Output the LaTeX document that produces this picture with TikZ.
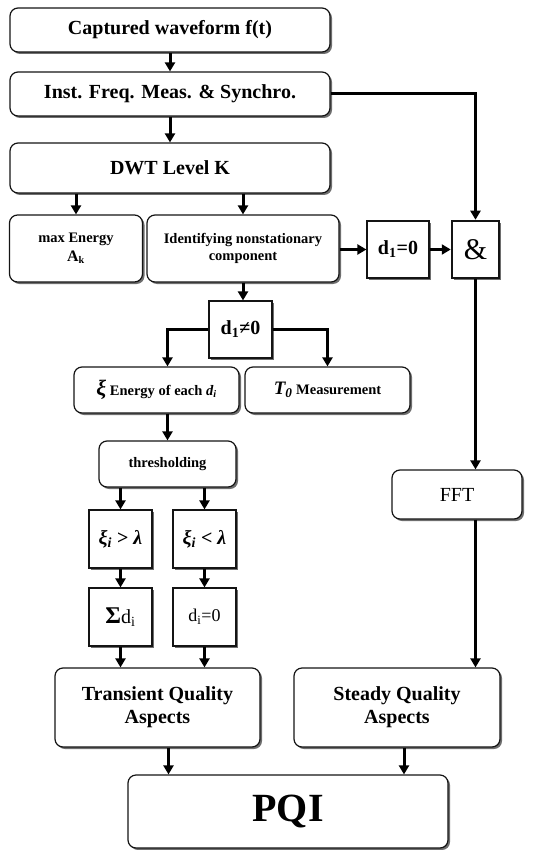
\documentclass[tikz,border=0pt]{standalone}
\usepackage{fontspec}
\setmainfont{Liberation Serif}
\usepackage{amsmath}
\usepackage{tikz}
\usetikzlibrary{
  arrows.meta,
  calc,
  shadows
}
\usepackage{xcolor}
\definecolor{shadowgray}{RGB}{110,110,110}
\definecolor{boxline}{RGB}{20,20,20}
\tikzset{
  % Bloklar
  rbox/.style   = {draw=boxline, line width=1.2pt, rounded corners=8pt, fill=white,
                   align=center, inner sep=0pt,
                   drop shadow={shadow xshift=2pt, shadow yshift=-2pt, fill=shadowgray, opacity=1}},
  sbox/.style   = {draw=boxline, line width=1.2pt, fill=white, align=center, inner sep=0pt,
                   drop shadow={shadow xshift=2pt, shadow yshift=-2pt, fill=shadowgray, opacity=1}},
  % Matn o'lchamlari
  bigtxt/.style = {font=\fontsize{20}{23}\selectfont\bfseries},
  smtxt/.style  = {font=\fontsize{14.5}{17}\selectfont\bfseries},
  % Strelkalar
  arr/.style    = {line width=3pt, -{Triangle[width=10pt,length=9pt]}},
}

\begin{document}
\begin{tikzpicture}[x=1pt,y=-1pt]
  \useasboundingbox (0,0) rectangle (557,850);
  % Yuqori qism
  \node[rbox, bigtxt, minimum width=320, minimum height=44] (capt) at (170,30) {Captured waveform f(t)};
  \node[rbox, bigtxt, minimum width=320, minimum height=44] (freq) at (170,94) {Inst. Freq. Meas. \& Synchro.};
  \node[rbox, bigtxt, minimum width=320, minimum height=50] (dwt) at (170,168) {DWT Level K};
  \node[rbox, smtxt, minimum width=133, minimum height=67] (maxen) at (76,248.5)
    {max Energy\\[2pt]{\fontsize{16}{18}\selectfont A}\textsubscript{k}};
  \node[rbox, smtxt, minimum width=192, minimum height=67] (ident) at (243,248.5)
    {Identifying nonstationary\\component};
  \node[sbox, bigtxt, minimum width=62, minimum height=57] (dzero) at (398,249.5) {d\textsubscript{1}=0};
  \node[sbox, line width=2.5pt, font=\fontsize{30}{32}\selectfont, minimum width=47, minimum height=57]
    (andb) at (475.5,249.5) {\&};
  % Nostatsionar tarmoq
  \node[sbox, bigtxt, minimum width=63, minimum height=57] (dnz) at (240.5,329.5)
    {d\textsubscript{1}≠0};
  \node[rbox, smtxt, minimum width=165, minimum height=46] (energy) at (156.5,390)
    {{\fontsize{22}{24}\selectfont\itshape ξ} Energy of each \textit{d\textsubscript{i}}};
  \node[rbox, smtxt, minimum width=165, minimum height=46] (tzero) at (327.5,390)
    {{\fontsize{19}{21}\selectfont\itshape T\textsubscript{0}} Measurement};
  \node[rbox, smtxt, minimum width=137, minimum height=46] (thr) at (167.5,464) {thresholding};
  \node[sbox, bigtxt, minimum width=63, minimum height=58] (gtl) at (120.5,539)
    {\textit{ξ\textsubscript{i}} > \textit{λ}};
  \node[sbox, bigtxt, minimum width=63, minimum height=58] (ltl) at (204.5,539)
    {\textit{ξ\textsubscript{i}} < \textit{λ}};
  \node[sbox, font=\fontsize{20}{23}\selectfont, minimum width=63, minimum height=58] (sumd) at (120.5,617)
    {{\fontsize{24}{26}\selectfont\bfseries Σ}d\textsubscript{i}};
  \node[sbox, font=\fontsize{18}{21}\selectfont, minimum width=63, minimum height=58] (dizero) at (204.5,617)
    {d\textsubscript{i}=0};
  % Statsionar tarmoq
  \node[rbox, font=\fontsize{20}{23}\selectfont, minimum width=130, minimum height=49] (fft) at (457,494.5) {FFT};
  \node[rbox, bigtxt, minimum width=205, minimum height=79] (trans) at (157.5,707.5)
    {Transient Quality\\Aspects};
  \node[rbox, bigtxt, minimum width=206, minimum height=79] (steady) at (397,707.5)
    {Steady Quality\\Aspects};
  \node[rbox, font=\fontsize{40}{44}\selectfont\bfseries, minimum width=320, minimum height=73] (pqi) at (288,811.5) {PQI};

  % Ulanishlar
  \draw[arr] (capt) -- (freq);
  \draw[arr] (freq) -- (dwt);
  \draw[arr] (dwt.south -| maxen) -- (maxen);
  \draw[arr] (dwt.south -| ident) -- (ident);
  \draw[arr] (freq.east) -| (andb.north);
  \draw[arr] (ident.east |- dzero) -- (dzero);
  \draw[arr] (dzero) -- (andb);
  \draw[arr] (andb.south) -- (andb.south |- fft.north);
  \draw[arr] (fft.south -| andb) -- (steady.north -| andb);
  \draw[arr] (ident.south) -- (ident.south |- dnz.north);
  \draw[arr] (dnz.west) -| (energy.north -| thr);
  \draw[arr] (dnz.east) -| (tzero.north);
  \draw[arr] (energy.south -| thr) -- (thr.north);
  \draw[arr] (thr.south -| gtl) -- (gtl);
  \draw[arr] (thr.south -| ltl) -- (ltl);
  \draw[arr] (gtl) -- (sumd);
  \draw[arr] (ltl) -- (dizero);
  \draw[arr] (sumd.south) -- (sumd.south |- trans.north);
  \draw[arr] (dizero.south) -- (dizero.south |- trans.north);
  \draw[arr] ([xshift=11pt]trans.south) -- ([xshift=11pt]trans.south |- pqi.north);
  \draw[arr] ([xshift=7pt]steady.south) -- ([xshift=7pt]steady.south |- pqi.north);
\end{tikzpicture}
\end{document}
